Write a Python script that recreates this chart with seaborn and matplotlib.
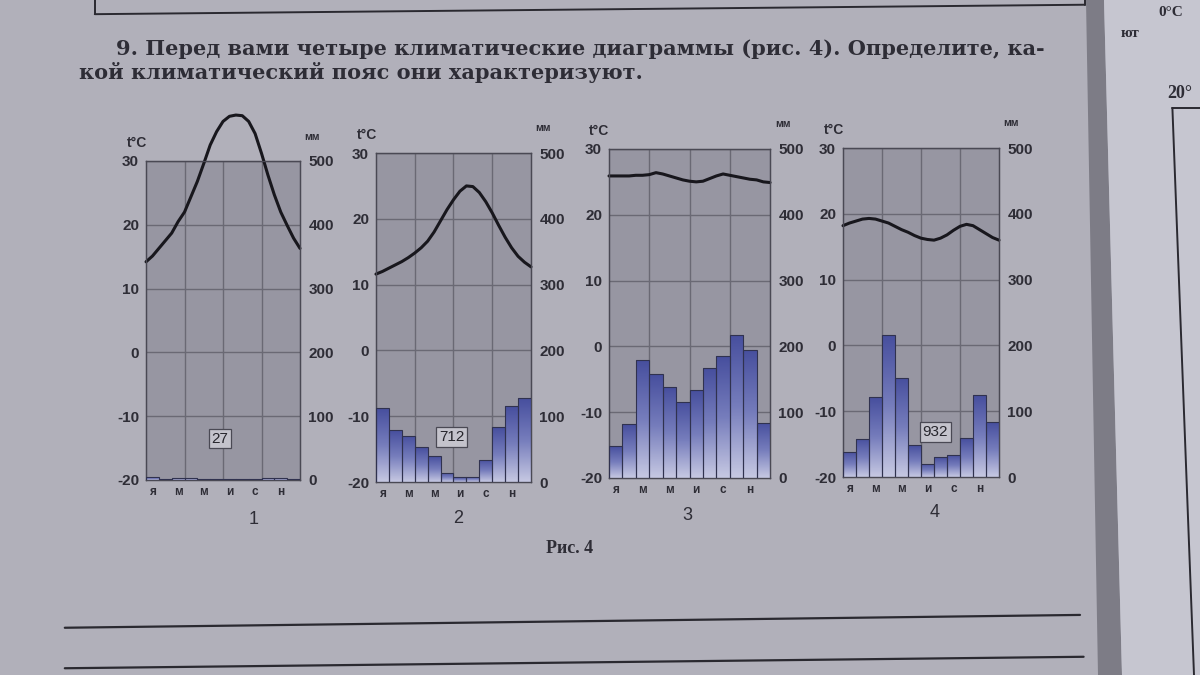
import numpy as np
import pandas as pd
import seaborn as sns
import matplotlib.pyplot as plt
from matplotlib.colors import LinearSegmentedColormap
from matplotlib.lines import Line2D

# Data (рис. 4)
months = list(range(12))
month_ticks = [0, 2, 4, 6, 8, 10]
month_labels = ['я', 'м', 'м', 'и', 'с', 'н']

# temperature curve, °C, read every half month (start of Jan .. end of Dec)
temp_1 = [14.2, 15.1, 16.3, 17.5, 18.7, 20.5, 22.0, 24.4, 26.8, 29.6, 32.5, 34.6, 36.2,
          37.0, 37.2, 37.1, 36.2, 34.3, 31.2, 27.8, 24.7, 22.0, 19.9, 17.9, 16.3]
temp_2 = [11.6, 12.0, 12.5, 13.0, 13.5, 14.1, 14.8, 15.6, 16.6, 18.0, 19.7, 21.4, 22.9,
          24.2, 25.0, 24.9, 24.0, 22.6, 20.9, 19.0, 17.2, 15.6, 14.3, 13.4, 12.7]
temp_3 = [25.9, 25.9, 25.9, 25.9, 26.0, 26.0, 26.1, 26.4, 26.2, 25.9, 25.6, 25.3, 25.1,
          25.0, 25.1, 25.5, 25.9, 26.2, 26.0, 25.8, 25.6, 25.4, 25.3, 25.0, 24.9]
temp_4 = [18.2, 18.6, 18.9, 19.2, 19.3, 19.2, 18.9, 18.6, 18.1, 17.6, 17.2, 16.7, 16.3,
          16.1, 16.0, 16.3, 16.8, 17.5, 18.1, 18.4, 18.2, 17.6, 17.0, 16.4, 16.0]

# monthly precipitation, mm
precip_1 = [4, 1, 3, 3, 1, 2, 1, 2, 2, 3, 3, 2]
precip_2 = [112, 79, 70, 53, 39, 14, 7, 8, 34, 83, 115, 127]
precip_3 = [48, 82, 179, 158, 138, 116, 133, 167, 185, 218, 195, 84]
precip_4 = [38, 58, 121, 216, 151, 48, 20, 30, 34, 59, 124, 83]

totals = ['27', '712', '1703', '932']
panel_names = ['1', '2', '3', '4']

temps = [temp_1, temp_2, temp_3, temp_4]
precips = [precip_1, precip_2, precip_3, precip_4]

# layout (figure fractions): left, bottom, width, height
positions = [
    [0.1217, 0.2889, 0.1283, 0.4726],
    [0.3133, 0.2859, 0.1292, 0.4874],
    [0.5075, 0.2919, 0.1342, 0.4874],
    [0.7025, 0.2933, 0.1300, 0.4874],
]
box_pos = [(0.48, 0.13), (0.49, 0.137), (0.50, 0.125), (0.59, 0.137)]
name_pos = [(0.211, 0.230), (0.382, 0.232), (0.573, 0.237), (0.779, 0.241)]

sns.set_style('white')
plt.rcParams['font.family'] = ['Liberation Sans', 'DejaVu Sans']
plt.rcParams['axes.unicode_minus'] = False

paper = '#b1b0ba'
plot_bg = '#9796a2'
grid_col = '#6a6974'
text_col = '#2e2d36'
serif = ['DejaVu Serif', 'Liberation Serif']
bar_cmap = LinearSegmentedColormap.from_list('bars', ['#474f9e', '#767dbc', '#c6c8e2'])

fig = plt.figure(figsize=(12, 6.75), dpi=100, facecolor=paper)

half_month = np.arange(25) * 0.5 - 0.5

for i in range(4):
    ax = fig.add_axes(positions[i])
    ax.set_facecolor(plot_bg)
    ax2 = ax.twinx()

    # precipitation bars, shaded dark at the top and pale at the base
    df = pd.DataFrame({'month': months, 'mm': precips[i]})
    sns.barplot(data=df, x='month', y='mm', ax=ax2, width=1.0, color='#6f76b8',
                edgecolor='#30324f', linewidth=0.8, zorder=3)
    grad = np.linspace(0, 1, 100).reshape(-1, 1)
    for bar in ax2.patches:
        x0, y0 = bar.get_x(), bar.get_y()
        w, h = bar.get_width(), bar.get_height()
        if h <= 0:
            continue
        im = ax2.imshow(grad, extent=[x0, x0 + w, y0, y0 + h], aspect='auto',
                        cmap=bar_cmap, vmin=0, vmax=1, zorder=2.5)
        im.set_clip_path(bar)
        bar.set_facecolor('none')

    # temperature curve
    sns.lineplot(x=half_month, y=temps[i], ax=ax, color='#18171d', linewidth=2.2)
    ax.lines[-1].set_clip_on(False)
    ax.lines[-1].set_zorder(5)

    ax.set_ylim(-20, 30)
    ax2.set_ylim(0, 500)
    ax.set_xlim(-0.5, 11.5)
    ax2.set_xlim(-0.5, 11.5)

    ax.set_yticks(range(-20, 31, 10))
    ax2.set_yticks(range(0, 501, 100))
    ax.set_xticks(month_ticks)
    ax.set_xticklabels(month_labels)
    ax.set_xticks([2.5, 5.5, 8.5], minor=True)
    ax.set_xlabel('')
    ax.set_ylabel('')
    ax2.set_xlabel('')
    ax2.set_ylabel('')

    ax.grid(axis='y', which='major', color=grid_col, linewidth=1.0)
    ax.grid(axis='x', which='minor', color=grid_col, linewidth=1.0)
    ax.grid(axis='x', which='major', visible=False)
    ax.set_axisbelow(True)

    ax.tick_params(axis='y', length=0, pad=5, labelsize=11, labelcolor=text_col)
    ax2.tick_params(axis='y', length=0, pad=6, labelsize=11, labelcolor=text_col)
    ax.tick_params(axis='x', which='both', length=0, pad=4, labelsize=8.5, labelcolor=text_col)
    for lab in ax.get_yticklabels() + ax2.get_yticklabels() + ax.get_xticklabels():
        lab.set_fontweight('bold')

    for sp in list(ax.spines.values()) + list(ax2.spines.values()):
        sp.set_color('#4a4954')
        sp.set_linewidth(0.9)

    ax.text(-0.06, 1.055, 't°C', transform=ax.transAxes, ha='center', va='center',
            fontsize=10, fontweight='bold', color=text_col)
    ax.text(1.08, 1.075, 'мм', transform=ax.transAxes, ha='center', va='center',
            fontsize=7.5, fontweight='bold', color=text_col)

    ax.text(box_pos[i][0], box_pos[i][1], totals[i], transform=ax.transAxes,
            ha='center', va='center', fontsize=11, color='#26252c', zorder=6,
            bbox=dict(boxstyle='square,pad=0.18', facecolor='#c4c3cc',
                      edgecolor='#4a4954', linewidth=0.9))

    fig.text(name_pos[i][0], name_pos[i][1], panel_names[i], ha='center', va='center',
             fontsize=13, color=text_col)

# caption and task text
fig.text(0.475, 0.188, 'Рис. 4', ha='center', va='center', fontsize=13,
         fontweight='bold', family=['Liberation Serif', 'DejaVu Serif'], color=text_col)
fig.text(0.097, 0.928, '9. Перед вами четыре климатические диаграммы (рис. 4). Определите, ка-',
         ha='left', va='center', fontsize=15, fontweight='bold', family=serif, color=text_col)
fig.text(0.066, 0.892, 'кой климатический пояс они характеризуют.',
         ha='left', va='center', fontsize=15, fontweight='bold', family=serif, color=text_col)

# ruled answer lines and frame of the previous task
fig.add_artist(Line2D([0.054, 0.900], [0.070, 0.089], color='#2a2930', linewidth=1.6))
fig.add_artist(Line2D([0.054, 0.903], [0.010, 0.027], color='#2a2930', linewidth=1.6))
fig.add_artist(Line2D([0.079, 0.904], [0.979, 0.993], color='#2a2930', linewidth=1.4))
fig.add_artist(Line2D([0.079, 0.079], [0.979, 1.0], color='#2a2930', linewidth=1.4))
fig.add_artist(Line2D([0.904, 0.904], [0.993, 1.0], color='#2a2930', linewidth=1.4))

# edge of the facing page
fig.patches.append(plt.Polygon([[0.905, 1.0], [0.920, 1.0], [0.935, 0.0], [0.915, 0.0]],
                               closed=True, transform=fig.transFigure,
                               facecolor='#7d7c86', edgecolor='none', zorder=0))
fig.patches.append(plt.Polygon([[0.920, 1.0], [1.0, 1.0], [1.0, 0.0], [0.935, 0.0]],
                               closed=True, transform=fig.transFigure,
                               facecolor='#c6c6d0', edgecolor='none', zorder=0))
fig.add_artist(Line2D([0.977, 0.995], [0.840, 0.0], color='#2a2930', linewidth=1.4))
fig.add_artist(Line2D([0.977, 1.0], [0.840, 0.840], color='#2a2930', linewidth=1.4))
fig.text(0.965, 0.982, '0°C', fontsize=11, fontweight='bold', va='center',
         family=['Liberation Serif', 'DejaVu Serif'], color=text_col)
fig.text(0.934, 0.950, 'ют', fontsize=11, fontweight='bold', va='center',
         family=['Liberation Serif', 'DejaVu Serif'], color=text_col)
fig.text(0.973, 0.862, '20°', fontsize=13, fontweight='bold', va='center',
         family=['Liberation Serif', 'DejaVu Serif'], color=text_col)

fig.savefig('out.png', dpi=100, facecolor=fig.get_facecolor())
